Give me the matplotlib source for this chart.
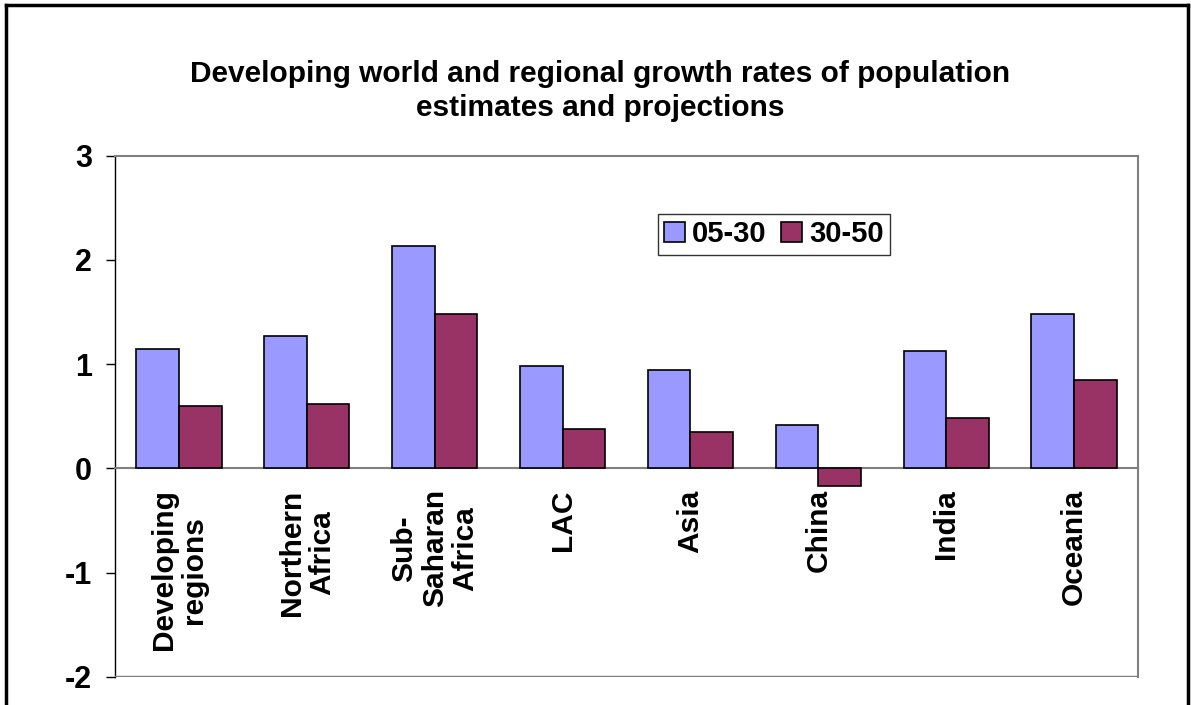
import numpy as np
import matplotlib
matplotlib.use("Agg")
import matplotlib.pyplot as plt
from matplotlib.lines import Line2D

# data
regions = ["Developing\nregions", "Northern\nAfrica", "Sub-\nSaharan\nAfrica", "LAC",
           "Asia", "China", "India", "Oceania"]
rate_05_30 = [1.15, 1.27, 2.13, 0.98, 0.94, 0.42, 1.13, 1.48]
rate_30_50 = [0.60, 0.62, 1.48, 0.38, 0.35, -0.17, 0.48, 0.85]
series_names = ["05-30", "30-50"]
yticks = [-2, -1, 0, 1, 2, 3]

plt.rcParams['font.family'] = ['Liberation Sans', 'DejaVu Sans']
plt.rcParams['font.weight'] = 'bold'

W, H = 1191, 705
fig = plt.figure(figsize=(W / 100, H / 100), dpi=100)
ax = fig.add_axes([115 / W, 1 - 677 / H, (1138 - 115) / W, (677 - 155.7) / H])

x = np.arange(len(regions))
bw = 1 / 3
ax.bar(x - bw / 2, rate_05_30, bw, color="#9999FF", edgecolor="black", linewidth=1.2,
       label=series_names[0], zorder=3)
ax.bar(x + bw / 2, rate_30_50, bw, color="#993366", edgecolor="black", linewidth=1.2,
       label=series_names[1], zorder=3)

ax.set_xlim(-0.5, len(regions) - 0.5)
ax.set_ylim(-2, 3)
ax.set_yticks(yticks)
ax.set_yticklabels([str(v) for v in yticks], fontsize=22, fontweight='bold')
ax.tick_params(axis='y', direction='out', length=6.5, width=1, pad=10)

# category axis sits on zero
grey = "#808080"
ax.spines['bottom'].set_position(('data', 0))
ax.spines['bottom'].set_color(grey)
ax.spines['bottom'].set_linewidth(1.5)
ax.spines['top'].set_color(grey)
ax.spines['top'].set_linewidth(1.5)
ax.spines['right'].set_color(grey)
ax.spines['right'].set_linewidth(1.5)
ax.spines['left'].set_color("black")
ax.spines['left'].set_linewidth(1)
ax.axhline(-2, color=grey, linewidth=2.5, zorder=4)

ax.set_xticks(x)
ax.set_xticklabels(regions, rotation=90, fontsize=21.5, fontweight='bold',
                   ha='center', va='top', multialignment='center', linespacing=1.1)
ax.tick_params(axis='x', length=0, pad=15)

leg = ax.legend(loc='upper left', bbox_to_anchor=(658 / W, 1 - 214 / H),
                bbox_transform=fig.transFigure, ncol=2, frameon=True, fancybox=False,
                prop={'size': 21, 'weight': 'bold'}, handlelength=0.7, handleheight=0.7,
                handletextpad=0.25, columnspacing=0.5, borderpad=0.22, borderaxespad=0)
leg.get_frame().set_edgecolor("black")
leg.get_frame().set_linewidth(1)

fig.text(600 / W, 1 - 91 / H,
         "Developing world and regional growth rates of population\nestimates and projections",
         ha='center', va='center', fontsize=21.5, fontweight='bold', linespacing=1.25)

# page frame
fig.add_artist(Line2D([6 / W, 6 / W], [0, 1 - 5 / H], color="black", linewidth=2.5,
                      transform=fig.transFigure))
fig.add_artist(Line2D([6 / W, 1188 / W], [1 - 5 / H, 1 - 5 / H], color="black", linewidth=2.5,
                      transform=fig.transFigure))
fig.add_artist(Line2D([1188 / W, 1188 / W], [0, 1 - 5 / H], color="black", linewidth=2.5,
                      transform=fig.transFigure))

fig.savefig("out.png", dpi=100)
